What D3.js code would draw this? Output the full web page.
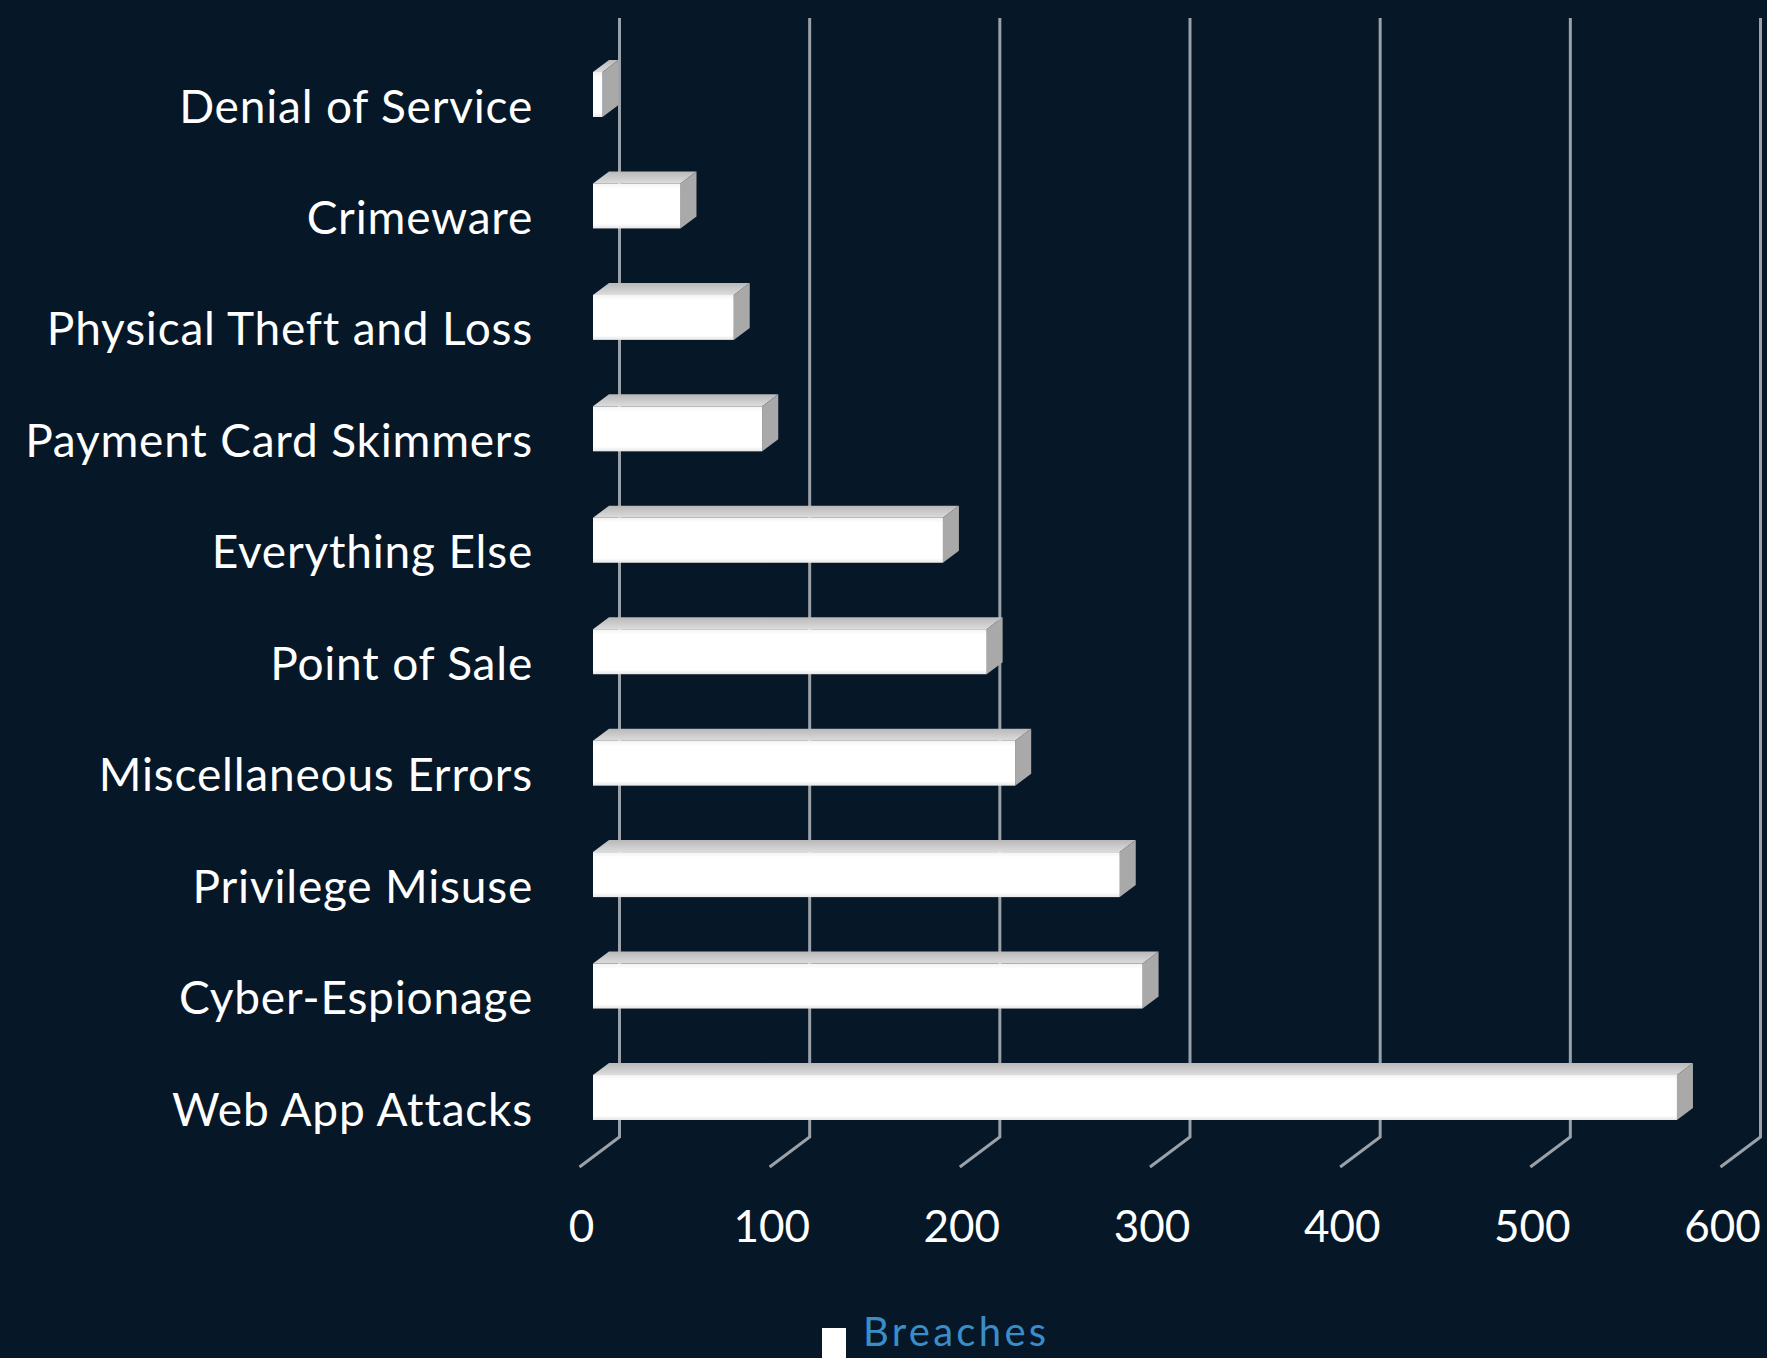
<!DOCTYPE html>
<html>
<head>
<meta charset="utf-8">
<script src="https://cdn.jsdelivr.net/npm/d3@7"></script>
<style>
  html, body { margin: 0; padding: 0; background: #061727; overflow: hidden; }
  text { font-family: Lato, "Open Sans", sans-serif; }
</style>
</head>
<body>
<div id="chart"></div>
<script>
// data
var categories = ["Denial of Service", "Crimeware", "Physical Theft and Loss",
  "Payment Card Skimmers", "Everything Else", "Point of Sale",
  "Miscellaneous Errors", "Privilege Misuse", "Cyber-Espionage", "Web App Attacks"];
var breaches = [5, 46, 74, 89, 184, 207, 222, 277, 289, 570];
var xTicks = [0, 100, 200, 300, 400, 500, 600];
var seriesName = "Breaches";

var width = 1767, height = 1358;
var frontX = 593,      // front face of bars at value 0
    wallX = 619.5,     // back wall at value 0
    wallTop = 18, wallBottom = 1137,
    floorDx = -40, floorDy = 30,
    barH = 45, depthX = 16, depthY = -12;

var svg = d3.select("#chart")
  .append("svg")
    .attr("width", width)
    .attr("height", height);

svg.append("rect")
  .attr("width", width)
  .attr("height", height)
  .attr("fill", "#061727");

var x = d3.scaleLinear()
  .domain([0, 600])
  .range([0, 1141]);

var y = d3.scalePoint()
  .domain(categories)
  .range([94.5, 1097.5]);

// gradients for the 3d faces
var defs = svg.append("defs");
var gTop = defs.append("linearGradient").attr("id", "gTop")
  .attr("x1", 0).attr("y1", 0).attr("x2", 0).attr("y2", 1);
gTop.append("stop").attr("offset", "0%").attr("stop-color", "#b9b9b9");
gTop.append("stop").attr("offset", "100%").attr("stop-color", "#dcdcdc");
var gFront = defs.append("linearGradient").attr("id", "gFront")
  .attr("x1", 0).attr("y1", 0).attr("x2", 0).attr("y2", 1);
gFront.append("stop").attr("offset", "0%").attr("stop-color", "#f2f2f2");
gFront.append("stop").attr("offset", "12%").attr("stop-color", "#ffffff");
gFront.append("stop").attr("offset", "90%").attr("stop-color", "#ffffff");
gFront.append("stop").attr("offset", "100%").attr("stop-color", "#e6e6e6");
defs.append("filter").attr("id", "soft")
  .append("feGaussianBlur").attr("stdDeviation", 0.7);

// gridlines on the back wall + floor diagonals
var grid = svg.append("g");
grid.selectAll("path")
  .data(xTicks)
  .enter()
  .append("path")
    .attr("d", function(d) {
      var bx = wallX + x(d);
      return "M" + bx + "," + wallTop + "V" + wallBottom +
        "L" + (bx + floorDx) + "," + (wallBottom + floorDy);
    })
    .attr("fill", "none")
    .attr("stroke", "#9aa1a8")
    .attr("stroke-width", 3);

// bars
var bars = svg.append("g").attr("filter", "url(#soft)")
  .selectAll("g")
  .data(categories)
  .enter()
  .append("g");

bars.append("path")   // top face
  .attr("d", function(d, i) {
    var x0 = frontX, x1 = frontX + x(breaches[i]), t = y(d) - barH / 2;
    return "M" + x0 + "," + t + "L" + (x0 + depthX) + "," + (t + depthY) +
      "L" + (x1 + depthX) + "," + (t + depthY) + "L" + x1 + "," + t + "Z";
  })
  .attr("fill", "url(#gTop)");

bars.append("path")   // side face
  .attr("d", function(d, i) {
    var x1 = frontX + x(breaches[i]), t = y(d) - barH / 2;
    return "M" + x1 + "," + t + "L" + (x1 + depthX) + "," + (t + depthY) +
      "L" + (x1 + depthX) + "," + (t + barH + depthY) + "L" + x1 + "," + (t + barH) + "Z";
  })
  .attr("fill", "#a9a9a9");

bars.append("rect")   // front face
  .attr("x", frontX)
  .attr("y", function(d) { return y(d) - barH / 2; })
  .attr("width", function(d, i) { return x(breaches[i]); })
  .attr("height", barH)
  .attr("fill", "url(#gFront)");

// category labels
svg.append("g")
  .selectAll("text")
  .data(categories)
  .enter()
  .append("text")
    .attr("x", 533)
    .attr("y", function(d) { return y(d) + 28; })
    .attr("text-anchor", "end")
    .attr("fill", "#ffffff")
    .style("font-size", "46px")
    .style("letter-spacing", "0.8px")
    .text(function(d) { return d; });

// value tick labels
svg.append("g")
  .selectAll("text")
  .data(xTicks)
  .enter()
  .append("text")
    .attr("x", function(d) { return wallX + floorDx + x(d) + 2; })
    .attr("y", 1242)
    .attr("text-anchor", "middle")
    .attr("fill", "#ffffff")
    .style("font-size", "44px")
    .text(function(d) { return d; });

// legend
svg.append("rect")
  .attr("x", 822)
  .attr("y", 1328)
  .attr("width", 24)
  .attr("height", 40)
  .attr("fill", "#ffffff");

svg.append("text")
  .attr("x", 863)
  .attr("y", 1346)
  .attr("fill", "#3a8dc8")
  .style("font-size", "40px")
  .style("letter-spacing", "3.3px")
  .text(seriesName);
</script>
</body>
</html>
